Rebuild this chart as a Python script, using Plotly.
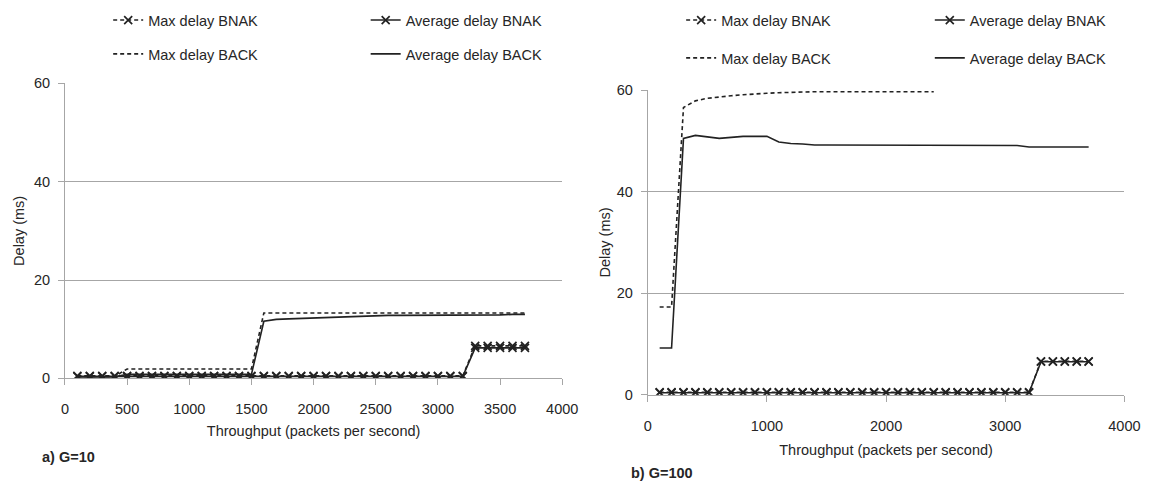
import plotly.graph_objects as go

# ---------------- data ----------------
x_vals = list(range(100, 3800, 100))  # 100 .. 3700

# a) G=10
left_max_bnak = [0.5] * 32 + [6.6] * 5
left_avg_bnak = [0.4] * 32 + [6.2] * 5
left_max_back = [0.4] * 4 + [1.9] * 11 + [13.3] * 22
left_avg_back = ([0.3] * 4 + [0.8] * 11 +
                 [11.6, 12.0, 12.1, 12.2, 12.3, 12.3, 12.4, 12.5, 12.7, 12.8,
                  12.8, 12.8, 12.8, 12.9, 12.9, 12.9, 12.9, 12.9, 12.9, 12.9, 13.0, 13.0])

# b) G=100
right_max_bnak = [0.5] * 32 + [6.6] * 5
right_avg_bnak = [0.4] * 32 + [6.5] * 5
x_right_max_back = list(range(100, 2500, 100))  # 100 .. 2400
right_max_back = [17.3, 17.3, 56.6, 57.9, 58.4, 58.7, 58.9, 59.1, 59.3, 59.4, 59.5, 59.6,
                  59.7, 59.7, 59.7, 59.7, 59.7, 59.7, 59.7, 59.7, 59.7, 59.7, 59.7, 59.7]
right_avg_back = ([9.2, 9.2, 50.5, 51.1, 50.8, 50.5, 50.7, 50.9, 50.9, 50.9,
                   49.8, 49.5, 49.4, 49.2, 49.2, 49.2, 49.2, 49.2, 49.2, 49.2,
                   49.2, 49.2, 49.2, 49.2, 49.2, 49.2, 49.2, 49.2, 49.2, 49.1, 49.1]
                  + [48.8] * 6)

y_ticks = [0, 20, 40, 60]
left_x_ticks = [0, 500, 1000, 1500, 2000, 2500, 3000, 3500, 4000]
right_x_ticks = [0, 1000, 2000, 3000, 4000]

names = ["Max delay BNAK", "Average delay BNAK", "Max delay BACK", "Average delay BACK"]

# ---------------- style ----------------
W, H = 1163, 483
FONT = "Liberation Sans, Arial, sans-serif"
TXT = "#262626"
LINE = "#222222"
GRID = "#a6a6a6"
FS = 14.5


def px(v):
    return v / W


def py(v):
    return 1 - v / H


fig = go.Figure()


def add_series(xs, ys, name, dashed, marker, xa, ya, legend, group, rank):
    fig.add_trace(go.Scatter(
        x=xs, y=ys, name=name,
        mode="lines+markers" if marker else "lines",
        line=dict(color=LINE, width=1.6, dash="4px,3px" if dashed else "solid"),
        marker=dict(symbol="x-thin-open", size=8, line=dict(color=LINE, width=1.7)),
        xaxis=xa, yaxis=ya, legend=legend, legendgroup=group, legendrank=rank,
        showlegend=True, hoverinfo="skip",
    ))


# left chart
add_series(x_vals, left_max_back, names[2], True, False, "x", "y", "legend", "l3", 2)
add_series(x_vals, left_avg_back, names[3], False, False, "x", "y", "legend2", "l4", 2)
add_series(x_vals, left_max_bnak, names[0], True, True, "x", "y", "legend", "l1", 1)
add_series(x_vals, left_avg_bnak, names[1], False, True, "x", "y", "legend2", "l2", 1)

# right chart
add_series(x_right_max_back, right_max_back, names[2], True, False, "x2", "y2", "legend3", "r3", 2)
add_series(x_vals, right_avg_back, names[3], False, False, "x2", "y2", "legend4", "r4", 2)
add_series(x_vals, right_max_bnak, names[0], True, True, "x2", "y2", "legend3", "r1", 1)
add_series(x_vals, right_avg_bnak, names[1], False, True, "x2", "y2", "legend4", "r2", 1)

axis_common = dict(
    showline=True, linecolor=GRID, linewidth=1,
    ticks="outside", ticklen=6, tickcolor=GRID, tickwidth=1,
    tickfont=dict(family=FONT, size=FS, color=TXT),
    zeroline=False, fixedrange=True,
)

# left: x 62..568, y 78..383 ; right: x 655..1140, y 85..400
fig.update_layout(
    width=W, height=H,
    margin=dict(l=0, r=0, t=0, b=0),
    paper_bgcolor="white", plot_bgcolor="white",
    font=dict(family=FONT, size=FS, color=TXT),
    xaxis=dict(domain=[px(62), px(568)], range=[0, 4000], tickvals=left_x_ticks,
               showgrid=False, anchor="y", ticklabelstandoff=11,
               title=dict(text="Throughput (packets per second)", standoff=10,
                          font=dict(family=FONT, size=FS, color=TXT)),
               **axis_common),
    yaxis=dict(domain=[py(383), py(78)], range=[0, 60], tickvals=y_ticks,
               showgrid=True, gridcolor=GRID, gridwidth=1, anchor="x",
               ticklabelstandoff=5,
               title=dict(text="Delay (ms)", standoff=5,
                          font=dict(family=FONT, size=FS, color=TXT)),
               **axis_common),
    xaxis2=dict(domain=[px(655), px(1140)], range=[0, 4000], tickvals=right_x_ticks,
                showgrid=False, anchor="y2", ticklabelstandoff=12,
                title=dict(text="Throughput (packets per second)", standoff=11,
                           font=dict(family=FONT, size=FS, color=TXT)),
                **axis_common),
    yaxis2=dict(domain=[py(400), py(85)], range=[0, 60], tickvals=y_ticks,
                showgrid=True, gridcolor=GRID, gridwidth=1, anchor="x2",
                ticklabelstandoff=5,
                title=dict(text="Delay (ms)", standoff=2,
                           font=dict(family=FONT, size=FS, color=TXT)),
                **axis_common),
    showlegend=True,
)

leg_common = dict(orientation="v", xanchor="left", yanchor="top",
                  bgcolor="rgba(0,0,0,0)", borderwidth=0,
                  itemwidth=30, font=dict(family=FONT, size=FS, color=TXT),
                  traceorder="grouped", itemclick=False, itemdoubleclick=False)
fig.update_layout(
    legend=dict(x=px(106), y=py(-4), tracegroupgap=12, **leg_common),
    legend2=dict(x=px(368), y=py(-4), tracegroupgap=12, **leg_common),
    legend3=dict(x=px(689), y=py(-4), tracegroupgap=16, **leg_common),
    legend4=dict(x=px(942), y=py(-4), tracegroupgap=16, **leg_common),
)

fig.add_annotation(text="<b>a) G=10</b>", x=px(37), y=py(464), xref="paper", yref="paper",
                   xanchor="left", yanchor="middle", showarrow=False,
                   font=dict(family=FONT, size=FS, color=TXT))
fig.add_annotation(text="<b>b) G=100</b>", x=px(636), y=py(481), xref="paper", yref="paper",
                   xanchor="left", yanchor="middle", showarrow=False,
                   font=dict(family=FONT, size=FS, color=TXT))

fig.write_html("out.html")
